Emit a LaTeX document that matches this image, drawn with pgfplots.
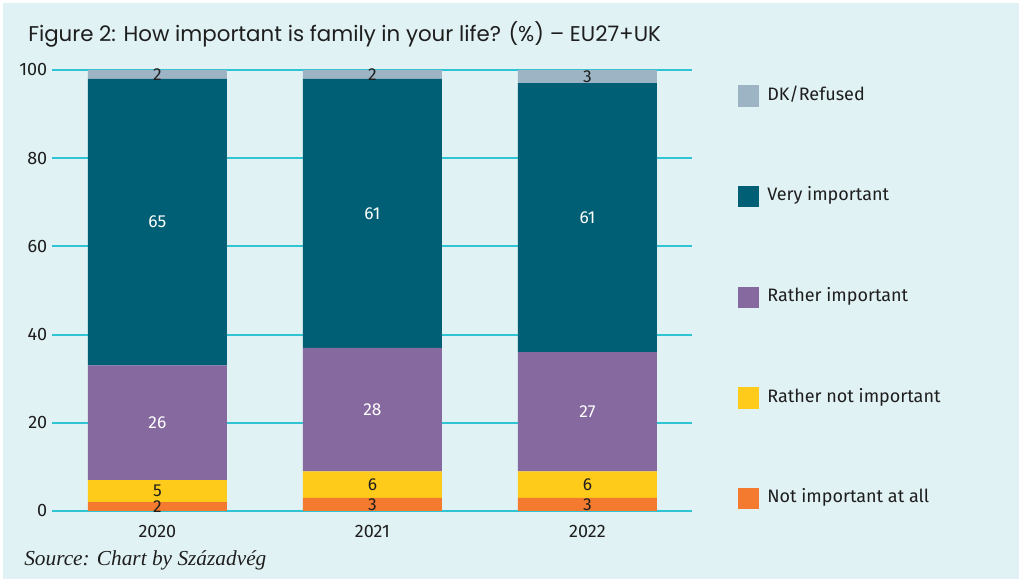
\documentclass[border=0pt]{standalone}
\usepackage{fontspec}
\setmainfont{Fira Sans}
\newfontfamily\titlefont{Poppins}
\newfontfamily\srcfont{Liberation Serif}
\usepackage{pgfplots}
\usepackage{pgfplotstable}
\pgfplotsset{compat=1.18}

\definecolor{bgc}{HTML}{E1F2F4}
\definecolor{gridc}{HTML}{2EC4D3}
\definecolor{cNot}{HTML}{F37A2E}
\definecolor{cRnot}{HTML}{FFCB1A}
\definecolor{cRimp}{HTML}{86699E}
\definecolor{cVery}{HTML}{005F74}
\definecolor{cDK}{HTML}{9DB4C4}
\definecolor{txt}{HTML}{1E1E1E}

% shares per year (%), bottom to top
\pgfplotstableread{
x notimp rnot rimp very dk
0 2 5 26 65 2
1 3 6 28 61 2
2 3 6 27 61 3
}\famdata

\begin{document}
\begin{tikzpicture}
% 1 px of the reference = 0.75pt
\fill[white] (0pt,0pt) rectangle (766.5pt,436.5pt);
\fill[bgc] (2.25pt,2.25pt) rectangle (764.25pt,434.25pt);
\node[anchor=base west, inner sep=0, text=txt, font=\titlefont\fontsize{16}{18}\selectfont]
  at (21pt,405pt) {Figure 2: How important is family in your life? (\%) – EU27+UK};
\node[anchor=base west, inner sep=0, text=txt, font=\srcfont\itshape\fontsize{16}{18}\selectfont]
  at (18pt,12pt) {Source: Chart by Századvég};
\begin{axis}[
  at={(39pt,53.25pt)}, anchor=south west,
  scale only axis, width=480pt, height=330.75pt,
  ybar stacked, bar width=104.25pt,
  xmin=-0.49, xmax=2.486, ymin=0, ymax=100,
  xtick={0,1,2}, xticklabels={2020,2021,2022},
  ytick={0,20,40,60,80,100},
  axis line style={draw=none}, tick style={draw=none},
  ymajorgrids, grid style={gridc, line width=1.5pt},
  ticklabel style={font=\fontsize{13.5}{15}\selectfont, text=txt},
  xticklabel style={yshift=-7pt},
  /pgf/number format/assume math mode=true,
  nodes near coords,
  % stacked bars already put the values in the middle of each segment
  every node near coord/.append style={anchor=center, font=\fontsize{13}{15}\selectfont,
    text=txt, inner sep=0pt},
  reverse legend,
  legend cell align=left,
  legend image code/.code={\fill[#1] (0pt,-8pt) rectangle (15.75pt,8pt);},
  legend style={at={(1.0719,0.966)}, anchor=north west, draw=none, fill=none,
    inner sep=0pt, row sep=59.5pt, font=\fontsize{13.5}{15}\selectfont, text=txt,
    nodes={inner sep=0pt, text height=9pt, text depth=2.5pt},
    /tikz/every odd column/.style={column sep=6pt}},
]
\addplot[fill=cNot, draw=none] table[x=x, y=notimp] {\famdata};
\addlegendentry{Not important at all}
\addplot[fill=cRnot, draw=none] table[x=x, y=rnot] {\famdata};
\addlegendentry{Rather not important}
\addplot[fill=cRimp, draw=none, every node near coord/.append style={text=white}] table[x=x, y=rimp] {\famdata};
\addlegendentry{Rather important}
\addplot[fill=cVery, draw=none, every node near coord/.append style={text=white}] table[x=x, y=very] {\famdata};
\addlegendentry{Very important}
\addplot[fill=cDK, draw=none] table[x=x, y=dk] {\famdata};
\addlegendentry{DK/Refused}
\end{axis}
\end{tikzpicture}
\end{document}
